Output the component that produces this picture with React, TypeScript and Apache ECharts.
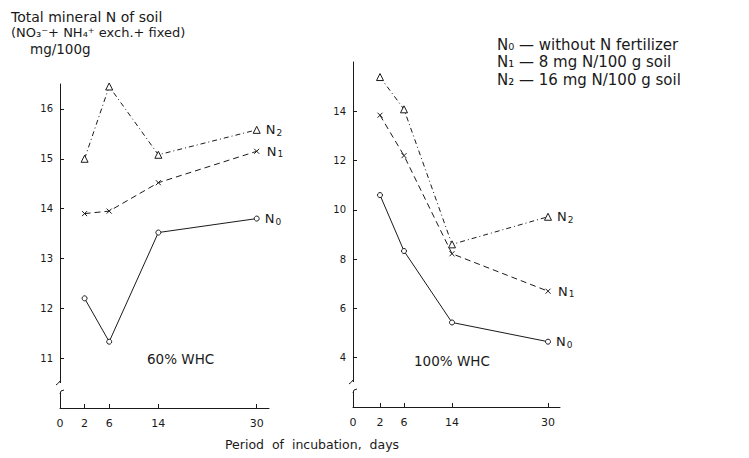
import React, { useEffect, useRef } from "react";
import * as echarts from "echarts";

// ---- data ----
const days = [2, 6, 14, 30];
const n0_60 = [12.2, 11.33, 13.52, 13.8];
const n1_60 = [13.9, 13.95, 14.52, 15.15];
const n2_60 = [15.0, 16.45, 15.08, 15.58];
const n0_100 = [10.6, 8.33, 5.43, 4.65];
const n1_100 = [13.84, 12.2, 8.22, 6.7];
const n2_100 = [15.39, 14.08, 8.6, 9.72];

const xTickLabels60 = [-2, 2, 6, 14, 30]; // -2 is drawn as "0" at the origin
const xTickLabels100 = [-2.5, 2, 6, 14, 30];
const yTicks60 = [11, 12, 13, 14, 15, 16];
const yTicks100 = [4, 6, 8, 10, 12, 14];

const seriesNames = ["N0", "N1", "N2"];
const legendNames = ["N₀", "N₁", "N₂"];
const legendTexts = ["without N fertilizer", "8 mg N/100 g soil", "16 mg N/100 g soil"];

const FONT = "DejaVu Sans";
const INK = "#1a1a1a";

const crossPath = "path://M0,0L10,10M10,0L0,10";

function mkSeries(vals: number[], idx: number, grid: number) {
  const styles: any[] = [
    { type: "solid", symbol: "circle", size: 5 },
    { type: [6, 4], symbol: crossPath, size: 5 },
    { type: [5, 3, 1, 3], symbol: "triangle", size: 7 },
  ];
  const s = styles[idx];
  return {
    type: "line",
    name: seriesNames[idx] + "_" + grid,
    xAxisIndex: grid,
    yAxisIndex: grid,
    data: days.map((d, i) => [d, vals[i]]),
    symbol: s.symbol,
    symbolSize: s.size,
    showAllSymbol: true,
    lineStyle: { color: INK, width: 1, type: s.type },
    itemStyle: {
      color: idx === 1 ? "none" : "#fff",
      borderColor: INK,
      borderWidth: 1,
    },
    label: {
      show: true,
      position: "right",
      distance: 5,
      color: INK,
      fontFamily: FONT,
      fontSize: 13,
      formatter: (p: any) => (p.dataIndex === days.length - 1 ? "N{s|" + idx + "}" : ""),
      rich: { s: { fontSize: 9, verticalAlign: "bottom", padding: [6, 0, 0, 1], fontFamily: FONT, color: INK } },
    },
    z: 3,
  };
}

function xAxisCfg(grid: number, min: number, labels: number[], ticks: number[]) {
  return {
    type: "value",
    gridIndex: grid,
    min,
    max: 32,
    axisLine: { show: true, onZero: false, lineStyle: { color: INK, width: 1 } },
    splitLine: { show: false },
    axisTick: { show: true, inside: true, length: 4, customValues: ticks, lineStyle: { color: INK } },
    axisLabel: {
      customValues: labels,
      formatter: (v: number) => (v < 0 ? "0" : String(v)),
      color: INK,
      fontFamily: FONT,
      fontSize: 11,
      margin: 10,
      showMinLabel: true,
      showMaxLabel: true,
    },
  };
}

function yAxisCfg(grid: number, min: number, max: number, ticks: number[], inside: boolean) {
  return {
    type: "value",
    gridIndex: grid,
    min,
    max,
    axisLine: { show: true, onZero: false, lineStyle: { color: INK, width: 1 } },
    splitLine: { show: false },
    axisTick: { show: true, inside, length: 4, customValues: ticks, lineStyle: { color: INK } },
    axisLabel: {
      customValues: ticks,
      color: INK,
      fontFamily: FONT,
      fontSize: 10,
      margin: 7,
    },
  };
}

function breakMark(x: number, y: number) {
  return [
    { type: "rect", shape: { x: x - 3, y: y - 1, width: 6, height: 9 }, style: { fill: "#fff" }, z: 10 },
    {
      type: "bezierCurve",
      shape: { x1: x - 4, y1: y + 1, cpx1: x - 1, cpy1: y - 1, x2: x, y2: y - 3 },
      style: { stroke: INK, lineWidth: 1, fill: "none" },
      z: 11,
    },
    {
      type: "bezierCurve",
      shape: { x1: x, y1: y + 10, cpx1: x, cpy1: y + 6, x2: x + 4, y2: y + 6 },
      style: { stroke: INK, lineWidth: 1, fill: "none" },
      z: 11,
    },
  ];
}

export default function App() {
  const ref = useRef<HTMLDivElement>(null);
  useEffect(() => {
    if (!ref.current) return;
    const chart = echarts.init(ref.current, undefined, { renderer: "svg" });
    const graphics: any[] = [
      {
        type: "text",
        left: 11,
        top: 10,
        style: { text: "Total mineral N of soil", fontSize: 14, fontFamily: FONT, fill: INK },
      },
      {
        type: "text",
        left: 11,
        top: 26,
        style: { text: "(NO₃⁻+ NH₄⁺ exch.+ fixed)", fontSize: 13, fontFamily: FONT, fill: INK },
      },
      {
        type: "text",
        left: 30,
        top: 42,
        style: { text: "mg/100g", fontSize: 13.5, fontFamily: FONT, fill: INK },
      },
      {
        type: "text",
        left: 147,
        top: 352,
        style: { text: "60% WHC", fontSize: 13.5, fontFamily: FONT, fill: INK },
      },
      {
        type: "text",
        left: 414,
        top: 354,
        style: { text: "100% WHC", fontSize: 13.5, fontFamily: FONT, fill: INK },
      },
      {
        type: "text",
        left: 225,
        top: 438,
        style: { text: "Period  of  incubation,  days", fontSize: 12.5, fontFamily: FONT, fill: INK },
      },
      {
        type: "text",
        left: 497,
        top: 36,
        style: {
          text: legendTexts.map((t, i) => legendNames[i] + " — " + t).join("\n"),
          fontSize: 15,
          lineHeight: 17.6,
          fontFamily: FONT,
          fill: INK,
        },
      },
      ...breakMark(60, 384),
      ...breakMark(353, 383),
    ];
    chart.setOption({
      animation: false,
      backgroundColor: "#fff",
      grid: [
        { left: 60, top: 84, width: 209, height: 324 },
        { left: 353, top: 62, width: 207, height: 345 },
      ],
      xAxis: [
        xAxisCfg(0, -2, xTickLabels60, [2, 6, 14, 30]),
        xAxisCfg(1, -2.5, xTickLabels100, [2, 6, 14, 30]),
      ],
      yAxis: [yAxisCfg(0, 10, 16.5, yTicks60, true), yAxisCfg(1, 2, 16, yTicks100, true)],
      series: [
        mkSeries(n0_60, 0, 0),
        mkSeries(n1_60, 1, 0),
        mkSeries(n2_60, 2, 0),
        mkSeries(n0_100, 0, 1),
        mkSeries(n1_100, 1, 1),
        mkSeries(n2_100, 2, 1),
      ],
      graphic: graphics,
    });
    return () => chart.dispose();
  }, []);
  return <div ref={ref} style={{ position: "absolute", left: 0, top: 0, width: 749, height: 458 }} />;
}
